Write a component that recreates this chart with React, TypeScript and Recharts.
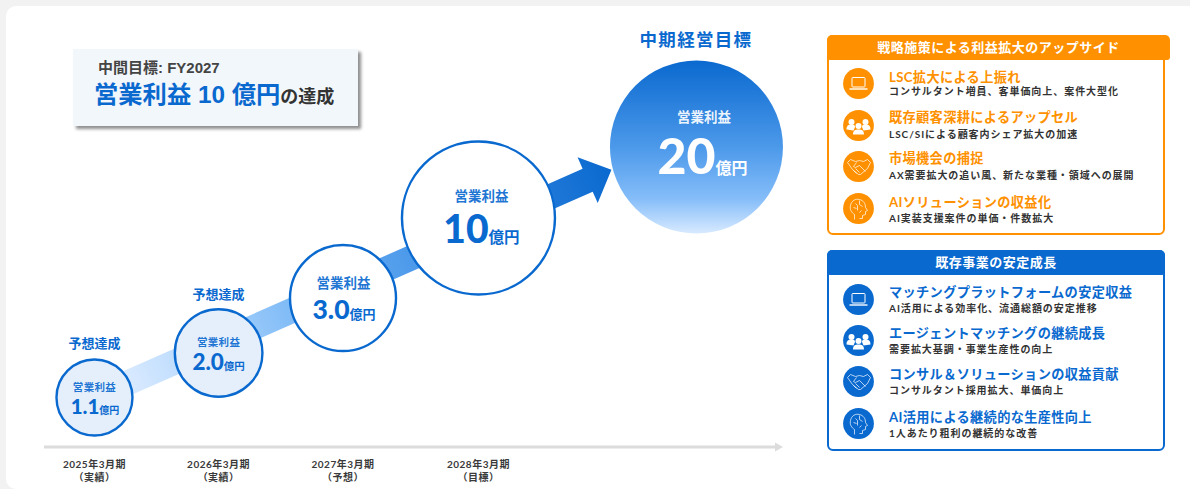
import React from "react";
import { ScatterChart, Scatter, XAxis, YAxis, ReferenceLine } from "recharts";

const FONT = 'Lato, "Noto Sans CJK JP", sans-serif';
const HEAD_FONT = '"Liberation Sans", "Noto Sans CJK JP", sans-serif';
const BLUE = "#0a69cf";
const ORANGE = "#ff9100";

// Operating profit path, in 億円
const periods = [2025, 2026, 2027, 2028, 2029];
const profits = [1.1, 2.0, 3.0, 10, 20];
const valueLabels = ["1.1", "2.0", "3.0", "10", "20"];
const milestoneLabels = ["予想達成", "予想達成", "", "", "中期経営目標"];
const periodTicks = [2025, 2026, 2027, 2028];
const periodNames = ["2025年3月期", "2026年3月期", "2027年3月期", "2028年3月期"];
const periodStates = ["（実績）", "（実績）", "（予想）", "（目標）"];

const upsideTitles = ["LSC拡大による上振れ", "既存顧客深耕によるアップセル", "市場機会の捕捉", "AIソリューションの収益化"];
const upsideNotes = [
  "コンサルタント増員、客単価向上、案件大型化",
  "LSC/SIによる顧客内シェア拡大の加速",
  "AX需要拡大の追い風、新たな業種・領域への展開",
  "AI実装支援案件の単価・件数拡大",
];
const baseTitles = ["マッチングプラットフォームの安定収益", "エージェントマッチングの継続成長", "コンサル＆ソリューションの収益貢献", "AI活用による継続的な生産性向上"];
const baseNotes = [
  "AI活用による効率化、流通総額の安定推移",
  "需要拡大基調・事業生産性の向上",
  "コンサルタント採用拡大、単価向上",
  "1人あたり粗利の継続的な改善",
];

const chartData = periods.map((period, i) => ({ period, profit: profits[i], value: valueLabels[i], milestone: milestoneLabels[i] }));

// The axes are not evenly spaced, so each one gets a piecewise scale
function piecewiseScale(knots: number[], shares: number[]) {
  let dom = [knots[0], knots[knots.length - 1]];
  let rng = [0, 1];
  const scale: any = (v: number) => {
    let i = 0;
    while (i < knots.length - 2 && v > knots[i + 1]) i++;
    const t = (v - knots[i]) / (knots[i + 1] - knots[i]);
    return rng[0] + (rng[1] - rng[0]) * (shares[i] + (shares[i + 1] - shares[i]) * t);
  };
  scale.domain = (d?: number[]) => (d ? ((dom = d), scale) : dom);
  scale.range = (r?: number[]) => (r ? ((rng = r), scale) : rng);
  scale.copy = () => piecewiseScale(knots, shares).domain(dom).range(rng);
  scale.ticks = () => knots;
  return scale;
}

const xScale = piecewiseScale([2024.6, 2025, 2026, 2027, 2028, 2029, 2030], [0, 0.0683, 0.2363, 0.4046, 0.5879, 0.8829, 1]);
const yScale = piecewiseScale([0, 1.1, 2, 3, 10, 20], [0, 0.1107, 0.2103, 0.3333, 0.5123, 0.6711]);

const bubbleStyles = [
  { r: 38, fill: "#e4effb", title: 10.5, gap: 0.3, titleDy: -11, titleDx: 0, num: 20.5, numDy: 16.5, unit: 10, numDx: 0.5, top: -55, topDx: 0 },
  { r: 43.8, fill: "#e4effb", title: 10.5, gap: 0.3, titleDy: -11, titleDx: 0, num: 22.5, numDy: 17, unit: 10.5, numDx: 0, top: -59, topDx: 0 },
  { r: 53, fill: "#ffffff", title: 13.5, gap: 0, titleDy: -15, titleDx: 0.5, num: 26.5, numDy: 21, unit: 13, numDx: 1, top: 0, topDx: 0 },
  { r: 76.5, fill: "#ffffff", title: 13.5, gap: 0, titleDy: -22, titleDx: 3, num: 39, numDy: 25, unit: 15.5, numDx: 3, top: 0, topDx: 0 },
  { r: 86.5, fill: "url(#targetFill)", title: 13.5, gap: 0, titleDy: -30, titleDx: 7.5, num: 50, numDy: 27, unit: 16, numDx: 6, top: -108, topDx: -0.5 },
];

function Bubble(props: any) {
  const { cx, cy, payload } = props;
  const i = periods.indexOf(payload.period);
  const s = bubbleStyles[i];
  const isTarget = i === 4;
  const ink = isTarget ? "#ffffff" : BLUE;
  return (
    <g fontFamily={FONT} fontWeight={700}>
      <defs>
        <linearGradient id="targetFill" x1="0" y1="0" x2="0" y2="1">
          <stop offset="0" stopColor="#0a69cf" />
          <stop offset="0.5" stopColor="#4c99ea" />
          <stop offset="0.8" stopColor="#85bdf9" />
          <stop offset="1" stopColor="#d8eaff" />
        </linearGradient>
      </defs>
      <circle cx={cx} cy={cy} r={s.r} fill={s.fill} stroke={isTarget ? "none" : BLUE} strokeWidth={2.4} />
      <text x={cx + s.titleDx} y={cy + s.titleDy} fill={ink} fontSize={s.title} letterSpacing={s.gap} textAnchor="middle" dominantBaseline="central" fillOpacity={0.92}>
        営業利益
      </text>
      <text x={cx + s.numDx} y={cy + s.numDy} fill={ink} textAnchor="middle">
        <tspan fontSize={s.num} fontWeight={900}>{payload.value}</tspan>
        <tspan fontSize={s.unit}>億円</tspan>
      </text>
      {payload.milestone && (
        <text
          x={cx + s.topDx}
          y={cy + s.top}
          fill={BLUE}
          fontSize={isTarget ? 17.5 : 13}
          letterSpacing={isTarget ? 1.3 : 0}
          textAnchor="middle"
          dominantBaseline="central"
        >
          {payload.milestone}
        </text>
      )}
    </g>
  );
}

// Wide growth band with its arrow head, fading from pale to full blue
function GrowthArrow(props: any) {
  const { x1, y1, x2, y2 } = props;
  const len = Math.hypot(x2 - x1, y2 - y1);
  const ux = (x2 - x1) / len;
  const uy = (y2 - y1) / len;
  const nx = -uy;
  const ny = ux;
  const head = 26;
  const half = 12.5;
  const wing = 25;
  const bx = x2 - ux * head;
  const by = y2 - uy * head;
  const pts = [
    [x1 + nx * half, y1 + ny * half],
    [bx + nx * half, by + ny * half],
    [bx + nx * wing, by + ny * wing],
    [x2, y2],
    [bx - nx * wing, by - ny * wing],
    [bx - nx * half, by - ny * half],
    [x1 - nx * half, y1 - ny * half],
  ];
  return (
    <g>
      <defs>
        <linearGradient id="growthBand" gradientUnits="userSpaceOnUse" x1={x1} y1={y1} x2={x2} y2={y2}>
          <stop offset="0.07" stopColor="#d8e9ff" />
          <stop offset="0.2" stopColor="#b6d9fd" />
          <stop offset="0.45" stopColor="#6bb0f4" />
          <stop offset="0.68" stopColor="#4190e6" />
          <stop offset="1" stopColor={BLUE} />
        </linearGradient>
      </defs>
      <polygon points={pts.map((p) => p.join(",")).join(" ")} fill="url(#growthBand)" />
    </g>
  );
}

function AxisArrow(props: any) {
  const { x1, y1, x2, y2 } = props;
  return (
    <g fill="#dcdcdc">
      <rect x={x1} y={y1 - 1.5} width={x2 - x1 - 6} height={3} />
      <polygon points={`${x2},${y2} ${x2 - 8},${y2 - 4.5} ${x2 - 8},${y2 + 4.5}`} />
    </g>
  );
}

function PeriodTick(props: any) {
  const { x, y, payload } = props;
  const i = periodTicks.indexOf(payload.value);
  return (
    <g fontFamily={FONT} fontWeight={700} fontSize={10} letterSpacing={0.5} fill="#3a3a3a" textAnchor="middle">
      <text x={x} y={y + 13}>{periodNames[i]}</text>
      <text x={x} y={y + 26}>{periodStates[i]}</text>
    </g>
  );
}

function RowIcon({ kind, color }: { kind: number; color: string }) {
  return (
    <svg width={31} height={31} viewBox="-15.500 -15.500 31 31" style={{ position: "absolute", left: 0, top: 0 }}>
      <circle r={15.4} fill={color} />
      {kind === 0 && (
        <g fill="none" stroke="#fff" strokeWidth={1}>
          <rect x={-6.5} y={-6} width={13} height={9.5} rx={0.8} />
          <path d="M-9 5.500H9" strokeWidth={1.4} />
        </g>
      )}
      {kind === 1 && (
        <g fill="#fff">
          <circle cx={-7} cy={-3.5} r={3} />
          <circle cx={7} cy={-3.5} r={3} />
          <circle cx={0} cy={0.5} r={3} />
          <path d="M-12 4c0-4 2-5 5-5s3.500 1 3.500 2.500L-5 5zM12 4c0-4-2-5-5-5s-3.500 1-3.500 2.500L5 5zM-5.500 9c0-4 2-5 5.500-5s5.500 1 5.500 5z" />
        </g>
      )}
      {kind === 2 && (
        <g fill="none" stroke="#fff" strokeWidth={0.7} strokeLinejoin="round">
          <path d="M-11-4l3-3 5 2 4-1 4 1 4-2 3 3-3 6-7 6-2 0-6-5z" />
          <path d="M-2-4l-3 4 2 1 4-2 6 6M-3 2l4 4M-5 4l3 3" />
        </g>
      )}
      {kind === 3 && (
        <g fill="none" stroke="#fff" strokeWidth={0.7} strokeLinejoin="round">
          <path d="M-4 11V6c-3-2-5-5-4-9 1-5 5-7 9-6 4 1 6 4 6 8l2 3-2 1v3l-3 1v3H1" />
          <path d="M-3-5l2 2v5M1-8v4l3 2M-5-1l3 1M3 2l-2 2" />
        </g>
      )}
    </svg>
  );
}

// Side card: coloured header tab plus four icon rows, all placed by vertical centre
function SideCard({ top, height, headerWidth, color, heading, titles, notes, iconCentres, titleCentres, noteCentres }: any) {
  const inner = top + 2;
  return (
    <div style={{ position: "absolute", left: 827, top, width: 338, height, boxSizing: "border-box", border: `2px solid ${color}`, borderRadius: 6, background: "#fff" }}>
      <div style={{ position: "absolute", left: -2, top: -2, width: headerWidth, height: 25, background: color, borderRadius: "5px 5px 3px 3px", color: "#fff", fontSize: 13, fontWeight: 700, lineHeight: "25px", textAlign: "center", letterSpacing: 0.5 }}>
        {heading}
      </div>
      {titles.map((title: string, i: number) => (
        <React.Fragment key={title}>
          <div style={{ position: "absolute", left: 14, top: iconCentres[i] - inner - 15.5, width: 31, height: 31 }}>
            <RowIcon kind={i} color={color} />
          </div>
          <div style={{ position: "absolute", left: 60, top: titleCentres[i] - inner - 8, color, fontSize: 13.2, fontWeight: 700, lineHeight: "16px", whiteSpace: "nowrap", letterSpacing: 0.35 }}>
            {title}
          </div>
          <div style={{ position: "absolute", left: 60, top: noteCentres[i] - inner - 6, color: "#333", fontSize: 10, fontWeight: 700, lineHeight: "12px", whiteSpace: "nowrap", letterSpacing: 0.95 }}>
            {notes[i]}
          </div>
        </React.Fragment>
      ))}
    </div>
  );
}

export default function App() {
  return (
    <div style={{ position: "absolute", left: 0, top: 0, width: 1190, height: 489, overflow: "hidden", background: "#f2f2f2", fontFamily: FONT }}>
      <div style={{ position: "absolute", left: 6, top: 6, width: 1200, height: 483, background: "#fff", borderRadius: 10 }} />

      <div style={{ position: "absolute", left: 0, top: 0 }}>
        <ScatterChart width={1190} height={489} margin={{ top: 0, right: 407, bottom: 0, left: 44 }}>
          <XAxis
            type="number"
            dataKey="period"
            domain={[2024.6, 2030]}
            scale={xScale}
            ticks={periodTicks}
            height={42}
            tickLine={false}
            axisLine={false}
            tick={<PeriodTick />}
          />
          <YAxis type="number" dataKey="profit" domain={[0, 20]} scale={yScale} hide />
          <ReferenceLine
            segment={[{ x: 2024.6, y: 0 }, { x: 2030, y: 0 }]}
            ifOverflow="visible"
            shape={<AxisArrow />}
          />
          <ReferenceLine
            segment={[{ x: 2025, y: 1.1 }, { x: 2028.61, y: 16.8 }]}
            ifOverflow="visible"
            shape={<GrowthArrow />}
          />
          <Scatter data={chartData} shape={<Bubble />} isAnimationActive={false} />
        </ScatterChart>
      </div>

      {/* Mid-term goal callout */}
      <div style={{ position: "absolute", left: 73, top: 49, width: 285, height: 77, background: "#f2f7fc", boxShadow: "3px 3px 3px #8f8f8f" }}>
        <div style={{ position: "absolute", left: 25, top: 9, color: "#444", fontSize: 15, fontWeight: 700, lineHeight: "20px", fontFamily: HEAD_FONT, whiteSpace: "nowrap" }}>
          中間目標: FY2027
        </div>
        <div style={{ position: "absolute", left: 21, top: 29, color: BLUE, fontSize: 24.3, fontWeight: 700, lineHeight: "34px", fontFamily: HEAD_FONT, whiteSpace: "nowrap" }}>
          営業利益 10 億円<span style={{ color: "#333", fontSize: 18 }}>の達成</span>
        </div>
      </div>

      <SideCard
        top={35}
        height={200}
        headerWidth={343}
        color={ORANGE}
        heading="戦略施策による利益拡大のアップサイド"
        titles={upsideTitles}
        notes={upsideNotes}
        iconCentres={[83.3, 125.7, 166.7, 208.3]}
        titleCentres={[76.7, 117.3, 158.3, 202.3]}
        noteCentres={[91, 134, 175, 218]}
      />
      <SideCard
        top={250}
        height={201}
        headerWidth={338}
        color={BLUE}
        heading="既存事業の安定成長"
        titles={baseTitles}
        notes={baseNotes}
        iconCentres={[299, 340.7, 381.7, 423.3]}
        titleCentres={[291.7, 332.7, 374, 417]}
        noteCentres={[307.7, 349, 390, 433.3]}
      />
    </div>
  );
}
